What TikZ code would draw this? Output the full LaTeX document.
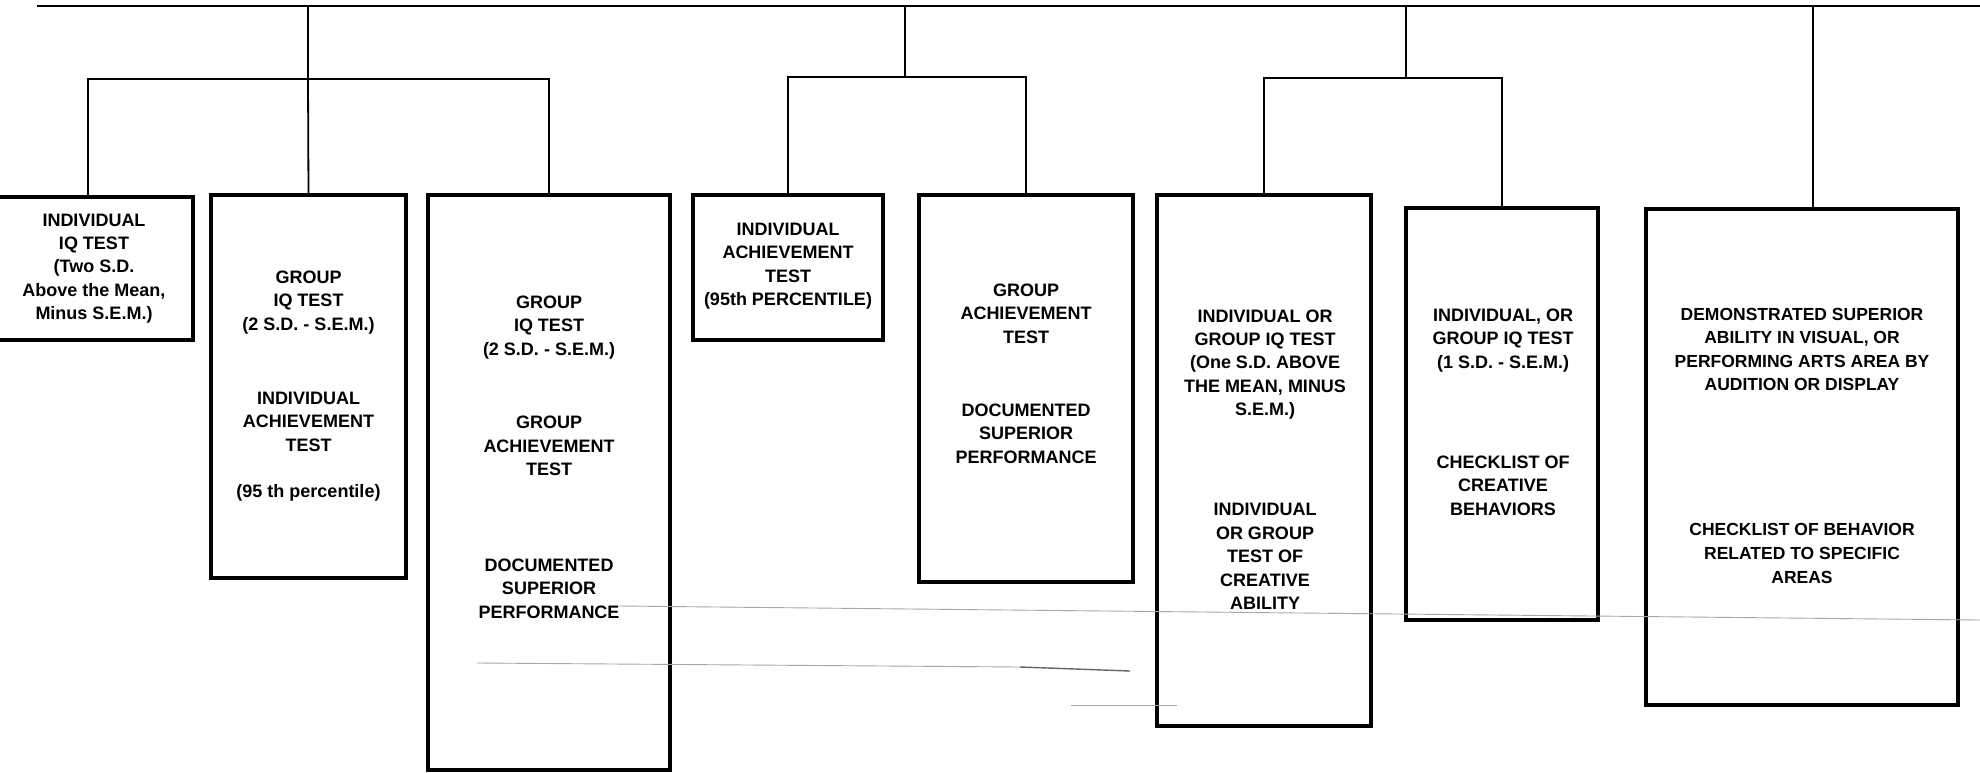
\documentclass[tikz,border=0pt]{standalone}
\usepackage{fontspec}
\setmainfont{Liberation Sans}
\begin{document}
\begin{tikzpicture}[x=1pt,y=-1pt,
  boxst/.style={draw=black, line width=4.5pt, inner sep=0pt, outer sep=0pt},
  conn/.style={draw=black, line width=1.8pt},
  lbl/.style={font=\fontsize{18}{23.4}\selectfont\bfseries, align=center, inner sep=0pt, text=black},
  lblwide/.style={font=\fontsize{17.5}{23.6}\selectfont\bfseries, align=center, inner sep=0pt, text=black},
  scanline/.style={draw=black!35, line width=0.9pt},
  scandark/.style={draw=black!60, line width=1.4pt}]
\useasboundingbox[fill=white] (0,0) rectangle (1980,773);

% boxes
\node[boxst, minimum width=210pt, minimum height=143pt] (b1) at (88,268.5) {};
\node[boxst, minimum width=195pt, minimum height=383pt] (b2) at (308.5,386.5) {};
\node[boxst, minimum width=242pt, minimum height=575pt] (b3) at (549,482.5) {};
\node[boxst, minimum width=190pt, minimum height=145pt] (b4) at (788,267.5) {};
\node[boxst, minimum width=214pt, minimum height=387pt] (b5) at (1026,388.5) {};
\node[boxst, minimum width=214pt, minimum height=531pt] (b6) at (1264,460.5) {};
\node[boxst, minimum width=192pt, minimum height=412pt] (b7) at (1502,414) {};
\node[boxst, minimum width=312pt, minimum height=496pt] (b8) at (1802,457) {};

% texts
\node[lbl] (t1) at (94,268.5) {INDIVIDUAL\\IQ TEST\\(Two S.D.\\Above the Mean,\\Minus S.E.M.)};
\node[lbl] (t2a) at (308.5,302.5) {GROUP\\IQ TEST\\(2 S.D. - S.E.M.)};
\node[lbl] (t2b) at (308.5,421.5) {INDIVIDUAL\\ACHIEVEMENT\\TEST};
\node[lbl] (t2c) at (308.5,493) {(95 th percentile)};
\node[lbl] (t3a) at (549,327.5) {GROUP\\IQ TEST\\(2 S.D. - S.E.M.)};
\node[lbl] (t3b) at (549,446) {GROUP\\ACHIEVEMENT\\TEST};
\node[lbl] (t3c) at (549,588.5) {DOCUMENTED\\SUPERIOR\\PERFORMANCE};
\node[lbl] (t4) at (788,266) {INDIVIDUAL\\ACHIEVEMENT\\TEST\\(95th PERCENTILE)};
\node[lbl] (t5a) at (1026,313.5) {GROUP\\ACHIEVEMENT\\TEST};
\node[lbl] (t5b) at (1026,433.5) {DOCUMENTED\\SUPERIOR\\PERFORMANCE};
\node[lbl] (t6a) at (1265,364.5) {INDIVIDUAL OR\\GROUP IQ TEST\\(One S.D. ABOVE\\THE MEAN, MINUS\\S.E.M.)};
\node[lbl] (t6b) at (1265,556.5) {INDIVIDUAL\\OR GROUP\\TEST OF\\CREATIVE\\ABILITY};
\node[lbl] (t7a) at (1503,340.5) {INDIVIDUAL, OR\\GROUP IQ TEST\\(1 S.D. - S.E.M.)};
\node[lbl] (t7b) at (1503,485.5) {CHECKLIST OF\\CREATIVE\\BEHAVIORS};
\node[lblwide] (t8a) at (1802,349.5) {DEMONSTRATED SUPERIOR\\ABILITY IN VISUAL, OR\\PERFORMING ARTS AREA BY\\AUDITION OR DISPLAY};
\node[lblwide] (t8b) at (1802,553.5) {CHECKLIST OF BEHAVIOR\\RELATED TO SPECIFIC\\AREAS};

% connector skeleton
\coordinate (topL) at (37,6);
\coordinate (topR) at (1980,6);
\coordinate (j1) at (308,6);
\coordinate (j2) at (905,6);
\coordinate (j3) at (1406,6);
\coordinate (j4) at (1813,6);
\coordinate (h1) at (308,79);
\coordinate (h2) at (905,77);
\coordinate (h3) at (1406,78);

\draw[conn] (topL) -- (topR);
\draw[conn] (j1) -- (h1);
\draw[conn] (j2) -- (h2);
\draw[conn] (j3) -- (h3);
\draw[conn] (j4) -- (j4 |- b8.north);
\draw[conn] (b1.north) -- (b1.north |- h1) -- (b3.north |- h1) -- (b3.north);
\draw[conn] (h1) -- (b2.north);
\draw[conn] (b4.north) -- (b4.north |- h2) -- (b5.north |- h2) -- (b5.north);
\draw[conn] (b6.north) -- (b6.north |- h3) -- (b7.north |- h3) -- (b7.north);

% scan streaks
\draw[scanline] (619,606) -- (1980,620);
\draw[scanline] (477,663) -- (1020,667);
\draw[scandark] (1020,667) -- (1130,671);
\draw[scanline] (1071,705) -- (1177,705);
\end{tikzpicture}
\end{document}
